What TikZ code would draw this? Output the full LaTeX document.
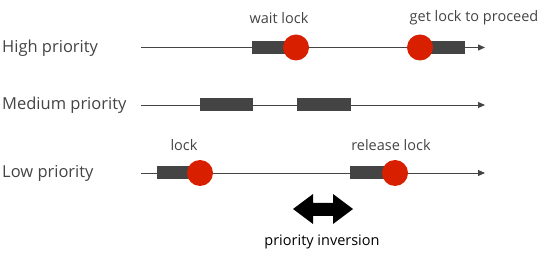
\documentclass[tikz,border=0pt]{standalone}
\usepackage{fontspec}
\setmainfont{Open Sans}
\usetikzlibrary{arrows.meta,positioning}
\definecolor{bargray}{RGB}{68,68,68}
\definecolor{lockred}{RGB}{216,32,0}
\definecolor{labelgray}{RGB}{68,68,68}

\tikzset{
  timeline/.style={draw=bargray, line width=0.9pt, -{Triangle[length=7pt,width=6pt]}},
  runbar/.style={fill=bargray, minimum height=13pt, inner sep=0pt, anchor=west},
  lockdot/.style={circle, fill=lockred, minimum size=26pt, inner sep=0pt},
  rowlabel/.style={anchor=west, text=labelgray, inner sep=0pt, font=\fontsize{16.5}{19}\selectfont},
  eventlabel/.style={text=labelgray, inner sep=0pt, font=\fontsize{14.5}{17}\selectfont}
}

\begin{document}
\begin{tikzpicture}[x=1pt, y=-1pt]
  \useasboundingbox (0,0) rectangle (556,253);
  % row labels
  \node[rowlabel] (high) at (2,48) {High priority};
  \node[rowlabel] (med) at (2,105.5) {Medium priority};
  \node[rowlabel] (low) at (2,173.5) {Low priority};
  % timelines
  \coordinate (hs) at (141,47.5);  \coordinate (he) at (485,47.5);
  \coordinate (ms) at (141,105);   \coordinate (me) at (485,105);
  \coordinate (ls) at (141,173);   \coordinate (le) at (485,173);
  \draw[timeline] (hs) -- (he);
  \draw[timeline] (ms) -- (me);
  \draw[timeline] (ls) -- (le);
  % running tasks
  \node[runbar, minimum width=44pt] (hb1) at (252,47.5) {};
  \node[runbar, minimum width=45pt] (hb2) at (420,47.5) {};
  \node[runbar, minimum width=53pt] (mb1) at (200,105) {};
  \node[runbar, minimum width=54pt] (mb2) at (297,105) {};
  \node[runbar, minimum width=43pt] (lb1) at (157,173) {};
  \node[runbar, minimum width=45pt] (lb2) at (350,173) {};
  % lock events
  \node[lockdot] (wait) at (296,47.5) {};
  \node[lockdot] (get) at (420,47.5) {};
  \node[lockdot] (take) at (200,173) {};
  \node[lockdot] (free) at (395,173) {};
  \node[eventlabel] (waitl) at (279,18) {wait lock};
  \node[eventlabel] (getl) at (474,18) {get lock to proceed};
  \node[eventlabel] (takel) at (184,145) {lock};
  \node[eventlabel] (freel) at (391,145) {release lock};
  % inversion span
  \fill[black] (293,209) -- (313,194) -- (313,203) -- (333,203) -- (333,194)
    -- (353,209) -- (333,224) -- (333,216) -- (313,216) -- (313,224) -- cycle;
  \node[inner sep=0pt, font=\fontsize{14.5}{17}\selectfont] (inv) at (322,242) {priority inversion};
\end{tikzpicture}
\end{document}
